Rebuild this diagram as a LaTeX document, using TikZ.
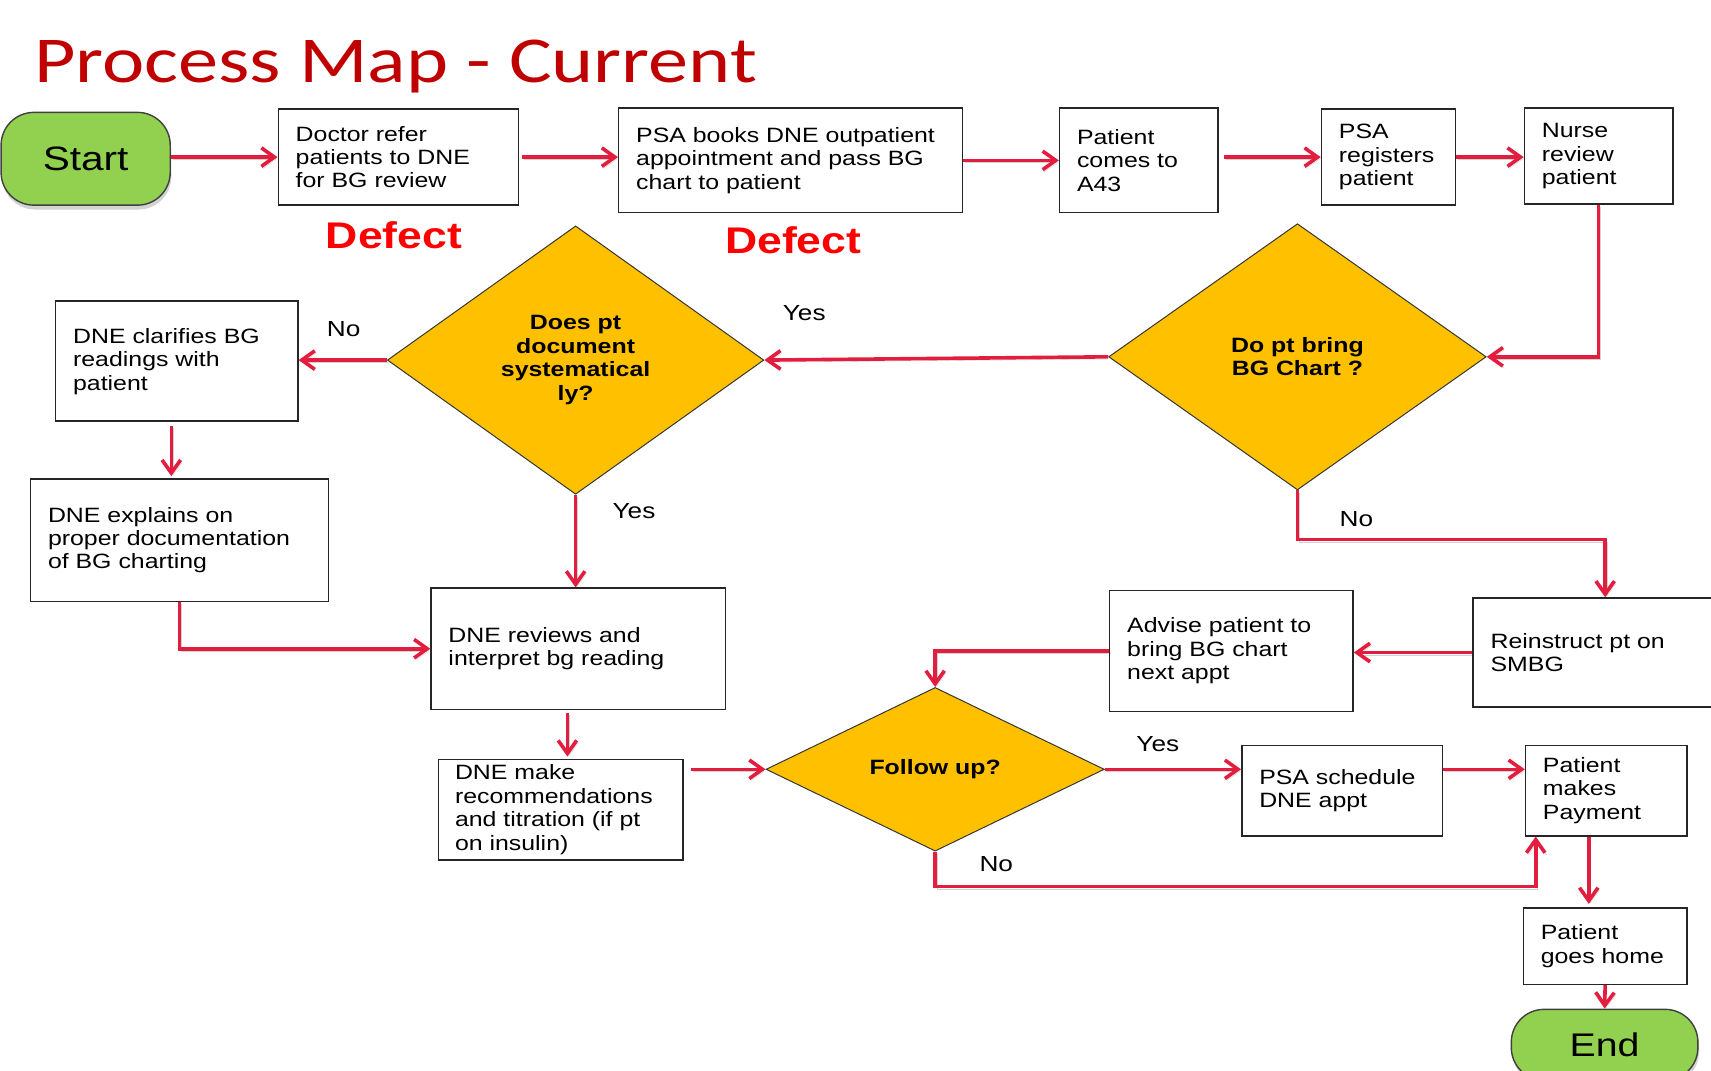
\documentclass[tikz,border=0pt]{standalone}
\usepackage{fontspec}
\setmainfont[FakeStretch=1.2]{Liberation Sans}
\newfontfamily\titlefont[FakeStretch=1.225]{Carlito}
\usetikzlibrary{shapes.geometric,arrows.meta,calc,shadows}
\definecolor{arrred}{RGB}{226,29,62}
\definecolor{gold}{RGB}{255,192,0}
\definecolor{termgreen}{RGB}{146,208,80}
\definecolor{titlered}{RGB}{192,0,0}
\definecolor{defred}{RGB}{255,0,0}
\tikzset{
  box/.style={rectangle, draw=black!85, line width=1.3pt, fill=white, align=left,
    inner xsep=16pt, inner ysep=0pt, font=\fontsize{19}{21.5}\selectfont},
  dia/.style={diamond, draw=black!80, line width=0.9pt, fill=gold, align=center,
    inner sep=0pt, font=\bfseries\fontsize{19}{21.5}\selectfont},
  term/.style={rectangle, rounded corners=30pt, draw=black!75, line width=1.3pt,
    fill=termgreen, drop shadow={shadow xshift=1pt, shadow yshift=-4pt, opacity=0.35},
    font=\fontsize{31}{31}\selectfont},
  arr/.style={draw=arrred, line width=3.3pt, -{Straight Barb[length=12pt,width=17pt]},
    preaction={draw=black, draw opacity=0.18, transform canvas={xshift=1.5pt,yshift=-2pt}}},
  lbl/.style={font=\fontsize{20}{20}\selectfont, inner sep=0pt},
  defect/.style={text=defred, font=\bfseries\fontsize{34}{34}\selectfont, inner sep=0pt}
}
\begin{document}
\begin{tikzpicture}[x=1pt,y=-1pt]
\useasboundingbox (0,0) rectangle (1568,981);
\clip (0,0) rectangle (1568,981);

\node[anchor=base west, inner sep=0pt, text=titlered,
  font=\titlefont\fontsize{60}{60}\selectfont] (title) at (31,76) {Process Map - Current};

% terminators
\node[term, minimum width=155pt, minimum height=85pt] (start) at (78.5,145.5) {Start};
\node[term, minimum width=171pt, minimum height=65pt, font=\fontsize{30}{30}\selectfont] (end) at (1470.5,957.5) {End};

% process boxes
\node[box, text width=188pt, minimum height=88pt] (doctor) at (365,144) {Doctor refer\\patients to DNE\\for BG review};
\node[box, text width=283pt, minimum height=96pt] (psabook) at (724.5,147) {PSA books DNE outpatient\\appointment and pass BG\\chart to patient};
\node[box, text width=113pt, minimum height=96pt] (comes) at (1043.5,147) {Patient\\comes to\\A43};
\node[box, text width=91pt, minimum height=88pt] (registers) at (1272.5,144) {PSA\\registers\\patient};
\node[box, text width=104pt, minimum height=88pt] (nurse) at (1465,143) {Nurse\\review\\patient};
\node[box, text width=190pt, minimum height=110pt] (clarify) at (162,331) {DNE clarifies BG\\readings with\\patient};
\node[box, text width=241pt, minimum height=112pt] (explain) at (164.5,495) {DNE explains on\\proper documentation\\of BG charting};
\node[box, text width=238pt, minimum height=111pt] (reviews) at (530,594.5) {DNE reviews and\\interpret bg reading};
\node[box, text width=194pt, minimum height=92pt, inner xsep=15pt] (make) at (514,742) {DNE make\\recommendations\\and titration (if pt\\on insulin)};
\node[box, text width=210pt, minimum height=100pt] (reinstruct) at (1471,598) {Reinstruct pt on\\SMBG};
\node[box, text width=191pt, minimum height=111pt] (advise) at (1128.5,596.5) {Advise patient to\\bring BG chart\\next appt};
\node[box, text width=152pt, minimum height=83pt] (schedule) at (1230,724.5) {PSA schedule\\DNE appt};
\node[box, text width=116pt, minimum height=83pt] (payment) at (1472,724.5) {Patient\\makes\\Payment};
\node[box, text width=118pt, minimum height=70pt] (home) at (1471,867) {Patient\\goes home};

% decisions
\node[dia, minimum width=345pt, minimum height=246pt] (d1) at (527.5,330) {Does pt\\document\\systematical\\ly?};
\node[dia, minimum width=346pt, minimum height=244pt] (d2) at (1189,327) {Do pt bring\\BG Chart ?};
\node[dia, minimum width=310pt, minimum height=150pt] (fu) at (857,705) {Follow up?};

% defect labels
\node[defect] (def1) at (361,216) {Defect};
\node[defect] (def2) at (727,220) {Defect};

% connectors
\draw[arr] (doctor.west -| start.east) -- (doctor.west);
\draw[arr] ($(doctor.east)+(3,0)$) -- (doctor.east -| psabook.west);
\draw[arr] (psabook.east) -- (psabook.east -| comes.west);
\draw[arr] ($(registers.west -| comes.east)+(5,0)$) -- (registers.west);
\draw[arr] (registers.east) -- (registers.east -| nurse.west);
\draw[arr] (nurse.south) |- (d2.east);
\draw[arr] (d2.west) -- (d1.east);
\draw[arr] (d1.west) -- (d1.west -| clarify.east);
\coordinate (cs) at ($(clarify.south)+(-5,4)$);
\draw[arr] (cs) -- ($(cs |- explain.north)+(0,-2)$);
\draw[arr] (explain.south) |- (reviews.west);
\draw[arr] (d1.south) -- (d1.south |- reviews.north);
\coordinate (rs) at ($(reviews.south)+(-10,3)$);
\draw[arr] (rs) -- ($(rs |- make.north)+(0,-2)$);
\draw[arr] ($(make.east |- fu.west)+(7,0)$) -- (fu.west);
\draw[arr] (d2.south) -- ++(0,45) -| (reinstruct.north);
\draw[arr] (reinstruct.west) -- (reinstruct.west -| advise.east);
\draw[arr] (advise.west) -| (fu.north);
\draw[arr] (fu.east) -- (fu.east -| schedule.west);
\draw[arr] (fu.east -| schedule.east) -- (fu.east -| payment.west);
\coordinate (pb) at ($(payment.south west)+(10,0)$);
\draw[arr] (fu.south) -- ++(0,32) -| (pb);
\coordinate (pd) at ($(payment.south)+(-16,0)$);
\draw[arr] (pd) -- ($(pd |- home.north)+(0,-3)$);
\draw[arr] (home.south) -- (end.north);

% branch labels
\node[lbl] (yes1) at (737,287) {Yes};
\node[lbl] (no1) at (315,302) {No};
\node[lbl] (yes2) at (581,468) {Yes};
\node[lbl] (no2) at (1243,476) {No};
\node[lbl] (yes3) at (1061,682) {Yes};
\node[lbl] (no3) at (913,792) {No};
\end{tikzpicture}
\end{document}
